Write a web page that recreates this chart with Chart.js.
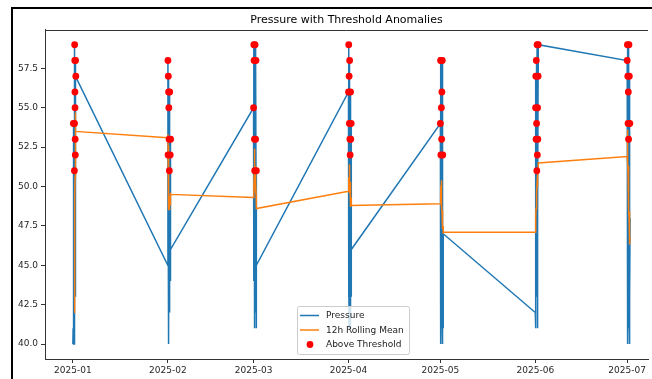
<!DOCTYPE html>
<html><head><meta charset="utf-8">
<script src="https://cdn.jsdelivr.net/npm/chart.js@4.4.0/dist/chart.umd.min.js"></script>
<style>
html,body{margin:0;padding:0;background:#fff;overflow:hidden;}
canvas{display:block;}
</style></head><body>
<canvas id="c" width="652" height="379"></canvas>
<script>
// ---- data ----
const months = ['2025-01','2025-02','2025-03','2025-04','2025-05','2025-06','2025-07'];
const xTickLabels = ['2025-01','2025-02','2025-03','2025-04','2025-05','2025-06','2025-07'];
const yTicks = [40.0, 42.5, 45.0, 47.5, 50.0, 52.5, 55.0, 57.5];
const threshold = 50;

// hourly pressure (hours 0..23 on the 1st of each month)
const pressureJan = [40,40,41,42,54,40,43,41,40,40,41,42,51,54,59,58,56,55,53,52,43,58,46,57];
const pressureFeb = [45,58,52,41,57,49,56,44,55,40,53,47,51,48,42,56,43,50,45,52,47,44,53,46];
const pressureMar = [55,47,59,44,58,49,41,53,46,51,43,48,59,45,42,50,53,47,44,58,49,41,51,45];
const pressureApr = [56,43,59,48,41,57,45,54,50,58,42,53,47,52,44,49,56,41,53,45,48,54,43,46];
const pressureMay = [54,46,58,40,52,44,58,49,55,41,53,45,56,42,48,58,40,50,43,52,44,47,41,47];
const pressureJun = [42,48,55,41,57,45,53,50,58,43,54,47,51,44,59,49,52,41,55,46,53,48,57,59];
const pressureJul = [58,45,59,49,40,57,43,54,47,56,41,53,48,44,59,42,46,57,40,50,45,54,43,48];

// 12h rolling mean
const rollingJan = [null,null,null,null,null,null,null,null,null,null,null,42.0,43.1,44.6,46.2,48.0,49.3,50.6,51.8,52.6,53.9,54.7,54.1,53.5];
const rollingFeb = [53.1,53.3,52.6,51.8,51.2,50.6,50.1,49.3,49.0,48.5,49.1,49.4,49.2,48.8,48.6,48.9,48.5,48.7,49.2,49.0,48.8,49.3,49.6,49.5];
const rollingMar = [49.3,49.6,50.1,49.8,50.5,51.0,50.4,51.2,51.8,52.4,51.6,50.9,51.3,50.5,50.0,49.7,50.2,49.6,49.9,50.3,49.5,49.0,48.9,48.6];
const rollingApr = [49.7,50.2,50.6,50.3,49.8,50.5,50.9,51.4,51.0,50.7,50.1,49.6,49.9,50.3,49.5,49.2,49.6,49.0,48.7,49.1,48.9,49.3,48.8,48.8];
const rollingMay = [48.9,49.3,49.8,49.2,49.6,50.1,50.4,49.9,50.2,49.5,49.0,48.6,48.9,48.3,48.0,48.5,47.8,48.1,47.6,47.9,47.3,47.5,47.0,47.1];
const rollingJun = [47.1,47.4,47.9,47.5,48.2,48.0,48.6,48.9,49.4,49.0,49.5,49.2,49.8,49.5,50.2,50.0,50.5,50.1,50.6,50.4,50.9,50.7,51.1,51.5];
const rollingJul = [51.9,52.4,53.0,53.6,52.8,52.2,51.5,50.9,51.3,50.6,50.0,49.4,49.8,49.1,48.5,48.0,48.4,47.8,47.2,46.8,47.1,46.5,46.3,46.7];

const pressureByMonth = [pressureJan,pressureFeb,pressureMar,pressureApr,pressureMay,pressureJun,pressureJul];
const rollingByMonth = [rollingJan,rollingFeb,rollingMar,rollingApr,rollingMay,rollingJun,rollingJul];

// ---- build points (x = days since 2025-01-01) ----
const base = Date.UTC(2025,0,1);
function dayOf(label){ const [y,m] = label.split('-').map(Number); return (Date.UTC(y,m-1,1)-base)/86400000; }
const monthDays = months.map(dayOf);
const tickDays = xTickLabels.map(dayOf);

const pressurePts = [], rollingPts = [], abovePts = [];
months.forEach((m,i)=>{
  pressureByMonth[i].forEach((v,h)=>{
    const x = monthDays[i] + h/24;
    pressurePts.push({x, y:v});
    if (v > threshold) abovePts.push({x, y:v});
  });
  rollingByMonth[i].forEach((v,h)=>{
    rollingPts.push({x: monthDays[i] + h/24, y: v});
  });
});

const FONT = 'DejaVu Sans';

const bgPlugin = {
  id:'bg',
  beforeDraw(chart){ const c=chart.ctx; c.save(); c.fillStyle='#fff'; c.fillRect(0,0,chart.width,chart.height); c.restore(); },
  afterDraw(chart){
    const c=chart.ctx, a=chart.chartArea;
    c.save(); c.strokeStyle='#333'; c.lineWidth=1;
    c.beginPath(); c.moveTo(a.left, Math.round(a.top)+0.5); c.lineTo(a.right, Math.round(a.top)+0.5); c.stroke();
    // outer screenshot frame
    c.fillStyle='#000';
    c.fillRect(11,7,chart.width-11,2);
    c.fillRect(11,7,2,chart.height-7);
    c.restore();
    // legend
    const ds = chart.data.datasets;
    const bx=297, by=306, bw=112, bh=48;
    c.save();
    c.fillStyle='rgba(255,255,255,0.8)'; c.strokeStyle='#cccccc'; c.lineWidth=1;
    c.beginPath(); c.roundRect(bx+0.5,by+0.5,bw,bh,2); c.fill(); c.stroke();
    c.font = '9px "'+FONT+'"'; c.textBaseline='middle'; c.textAlign='left';
    const rows=[315.5,330,344.5];
    ds.forEach((d,i)=>{
      const y=rows[i];
      if (d.type==='scatter'){
        c.fillStyle=d.backgroundColor; c.beginPath(); c.arc(310,y,3.4,0,Math.PI*2); c.fill();
      } else {
        c.strokeStyle=d.borderColor; c.lineWidth=1.5; c.beginPath(); c.moveTo(300,y); c.lineTo(319,y); c.stroke();
      }
      c.fillStyle='#222'; c.fillText(d.label, 326, y+0.5);
    });
    c.restore();
  }
};

new Chart(document.getElementById('c'), {
  type:'line',
  data:{ datasets:[
    {label:'Pressure', data:pressurePts, borderColor:'#1f77b4', backgroundColor:'#1f77b4', borderWidth:1.5, pointRadius:0, tension:0, order:3},
    {label:'12h Rolling Mean', data:rollingPts, borderColor:'#ff7f0e', backgroundColor:'#ff7f0e', borderWidth:1.5, pointRadius:0, tension:0, spanGaps:false, order:2},
    {type:'scatter', label:'Above Threshold', data:abovePts, backgroundColor:'#ff0000', borderColor:'#ff0000', borderWidth:0, pointRadius:3.4, showLine:false, order:1}
  ]},
  options:{
    responsive:false, animation:false, devicePixelRatio:1,
    layout:{padding:{left:0,right:0,top:8,bottom:0}},
    plugins:{
      legend:{display:false}, tooltip:{enabled:false},
      title:{display:true, fullSize:false, align:'center', text:'Pressure with Threshold Anomalies', color:'#000',
        font:{family:FONT,size:11,weight:'normal'}, padding:{top:6,bottom:2.6}}
    },
    scales:{
      x:{type:'linear', min:-9.1, max:187.8,
        afterFit(s){ s.height=20; },
        afterBuildTicks(s){ s.ticks = tickDays.map(v=>({value:v})); },
        ticks:{autoSkip:false, maxRotation:0, padding:2, color:'#262626', font:{family:FONT,size:9},
          callback(v){ const i=tickDays.indexOf(v); return i>=0 ? xTickLabels[i] : ''; }},
        grid:{display:true, drawOnChartArea:false, drawTicks:true, tickLength:4, color:'#333'},
        border:{display:true, color:'#333', width:1}
      },
      y:{type:'linear', min:39.05, max:59.95,
        afterFit(s){ s.width=45; },
        afterBuildTicks(s){ s.ticks = yTicks.map(v=>({value:v})); },
        ticks:{padding:3, color:'#262626', font:{family:FONT,size:9}, callback(v){ return Number(v).toFixed(1); }},
        grid:{display:true, drawOnChartArea:false, drawTicks:true, tickLength:4, color:'#333'},
        border:{display:true, color:'#333', width:1}
      }
    }
  },
  plugins:[bgPlugin]
});
</script>
</body></html>
